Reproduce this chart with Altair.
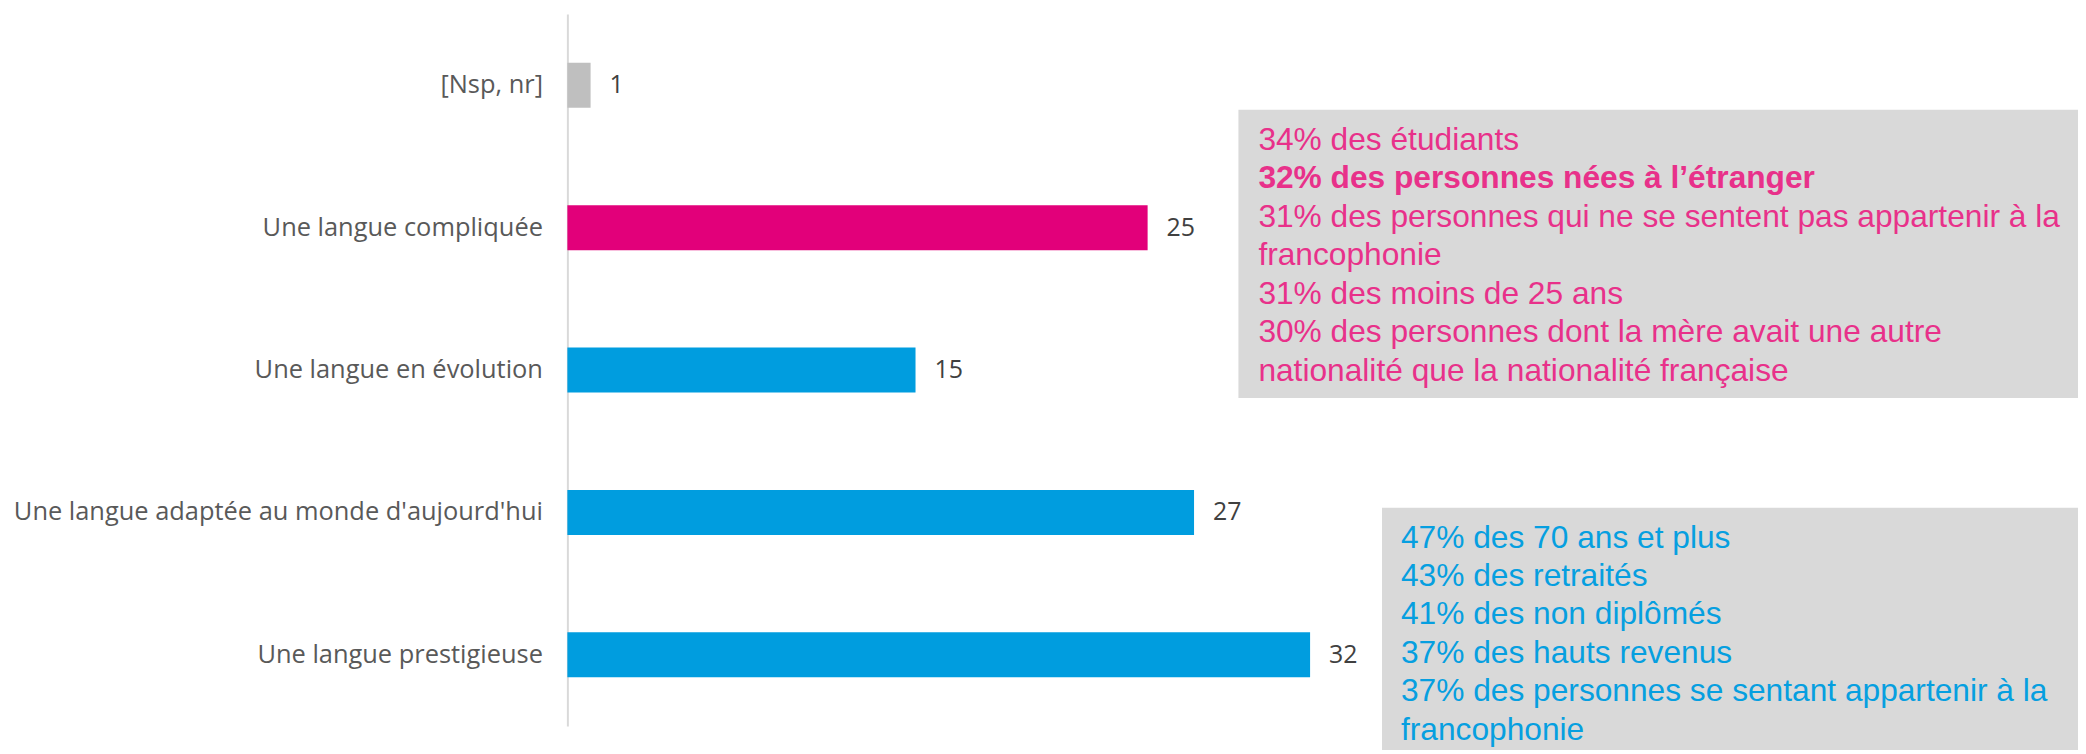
import altair as alt
import pandas as pd

categories = [
    "[Nsp, nr]",
    "Une langue compliquée",
    "Une langue en évolution",
    "Une langue adaptée au monde d'aujourd'hui",
    "Une langue prestigieuse",
]
values = [1, 25, 15, 27, 32]
groups = ["nsp", "neg", "pos", "pos", "pos"]

pink_lines = [
    "34% des étudiants",
    "32% des personnes nées à l’étranger",
    "31% des personnes qui ne se sentent pas appartenir à la",
    "francophonie",
    "31% des moins de 25 ans",
    "30% des personnes dont la mère avait une autre",
    "nationalité que la nationalité française",
]
pink_bold = [False, True, False, False, False, False, False]

blue_lines = [
    "47% des 70 ans et plus",
    "43% des retraités",
    "41% des non diplômés",
    "37% des hauts revenus",
    "37% des personnes se sentant appartenir à la",
    "francophonie",
]

df = pd.DataFrame({"cat": categories, "val": values, "grp": groups})
pink_df = pd.DataFrame({"line": pink_lines, "bold": pink_bold, "i": list(range(len(pink_lines)))})
blue_df = pd.DataFrame({"line": blue_lines, "i": list(range(len(blue_lines)))})
one = pd.DataFrame({"a": [0]})

LABEL_FONT = "Open Sans"
BOX_FONT = "Liberation Sans"
BOX_SIZE = 31.8

y = alt.Y(
    "cat:N",
    sort=categories,
    scale=alt.Scale(paddingInner=0.684, paddingOuter=0.342),
    axis=alt.Axis(
        title=None, ticks=False, labelPadding=25, labelFontSize=25.5,
        labelFont=LABEL_FONT, labelColor="#595959", domainColor="#D9D9D9",
        domainWidth=2, labelLimit=0, grid=False,
    ),
)
x = alt.X("val:Q", scale=alt.Scale(domain=[0, 65], nice=False, zero=True), axis=None)

base = alt.Chart(df)
bars = base.mark_bar().encode(
    x=x, y=y,
    color=alt.Color(
        "grp:N",
        scale=alt.Scale(domain=["nsp", "neg", "pos"], range=["#BFBFBF", "#E2007A", "#009DDF"]),
        legend=None,
    ),
)
labels = base.mark_text(
    align="left", baseline="middle", dx=19, font=LABEL_FONT, fontSize=25, color="#404040"
).encode(x=x, y=y, text="val:Q")

pink_box = alt.Chart(one).mark_rect(color="#D9D9D9").encode(
    x=alt.value(673), x2=alt.value(1519), y=alt.value(96), y2=alt.value(385)
)
pink_base = alt.Chart(pink_df).transform_calculate(py="126 + datum.i * 38.6")
pink_enc = dict(x=alt.value(693), y=alt.Y("py:Q", scale=None, axis=None), text="line:N")
pink_text = pink_base.transform_filter("!datum.bold").mark_text(
    align="left", baseline="middle", font=BOX_FONT, fontSize=BOX_SIZE, color="#E8318A"
).encode(**pink_enc)
pink_bold_text = pink_base.transform_filter("datum.bold").mark_text(
    align="left", baseline="middle", font=BOX_FONT, fontSize=BOX_SIZE, color="#E8318A", fontWeight="bold"
).encode(**pink_enc)

blue_box = alt.Chart(one).mark_rect(color="#D9D9D9").encode(
    x=alt.value(817), x2=alt.value(1519), y=alt.value(495), y2=alt.value(745)
)
blue_text = (
    alt.Chart(blue_df)
    .transform_calculate(py="525 + datum.i * 38.6")
    .mark_text(align="left", baseline="middle", font=BOX_FONT, fontSize=BOX_SIZE, color="#069FE0")
    .encode(
        x=alt.value(836),
        y=alt.Y("py:Q", scale=None, axis=None),
        text="line:N",
    )
)

chart = (
    alt.layer(alt.layer(bars, labels), pink_box, pink_text, pink_bold_text, blue_box, blue_text)
    .resolve_scale(y="independent")
    .properties(
        width=1513,
        height=714,
        padding={"left": 561, "top": 5, "right": 2, "bottom": 23},
        autosize="none",
    )
    .configure_view(stroke=None)
)

chart.save("out.html", embed_options={"renderer": "svg", "actions": False})
